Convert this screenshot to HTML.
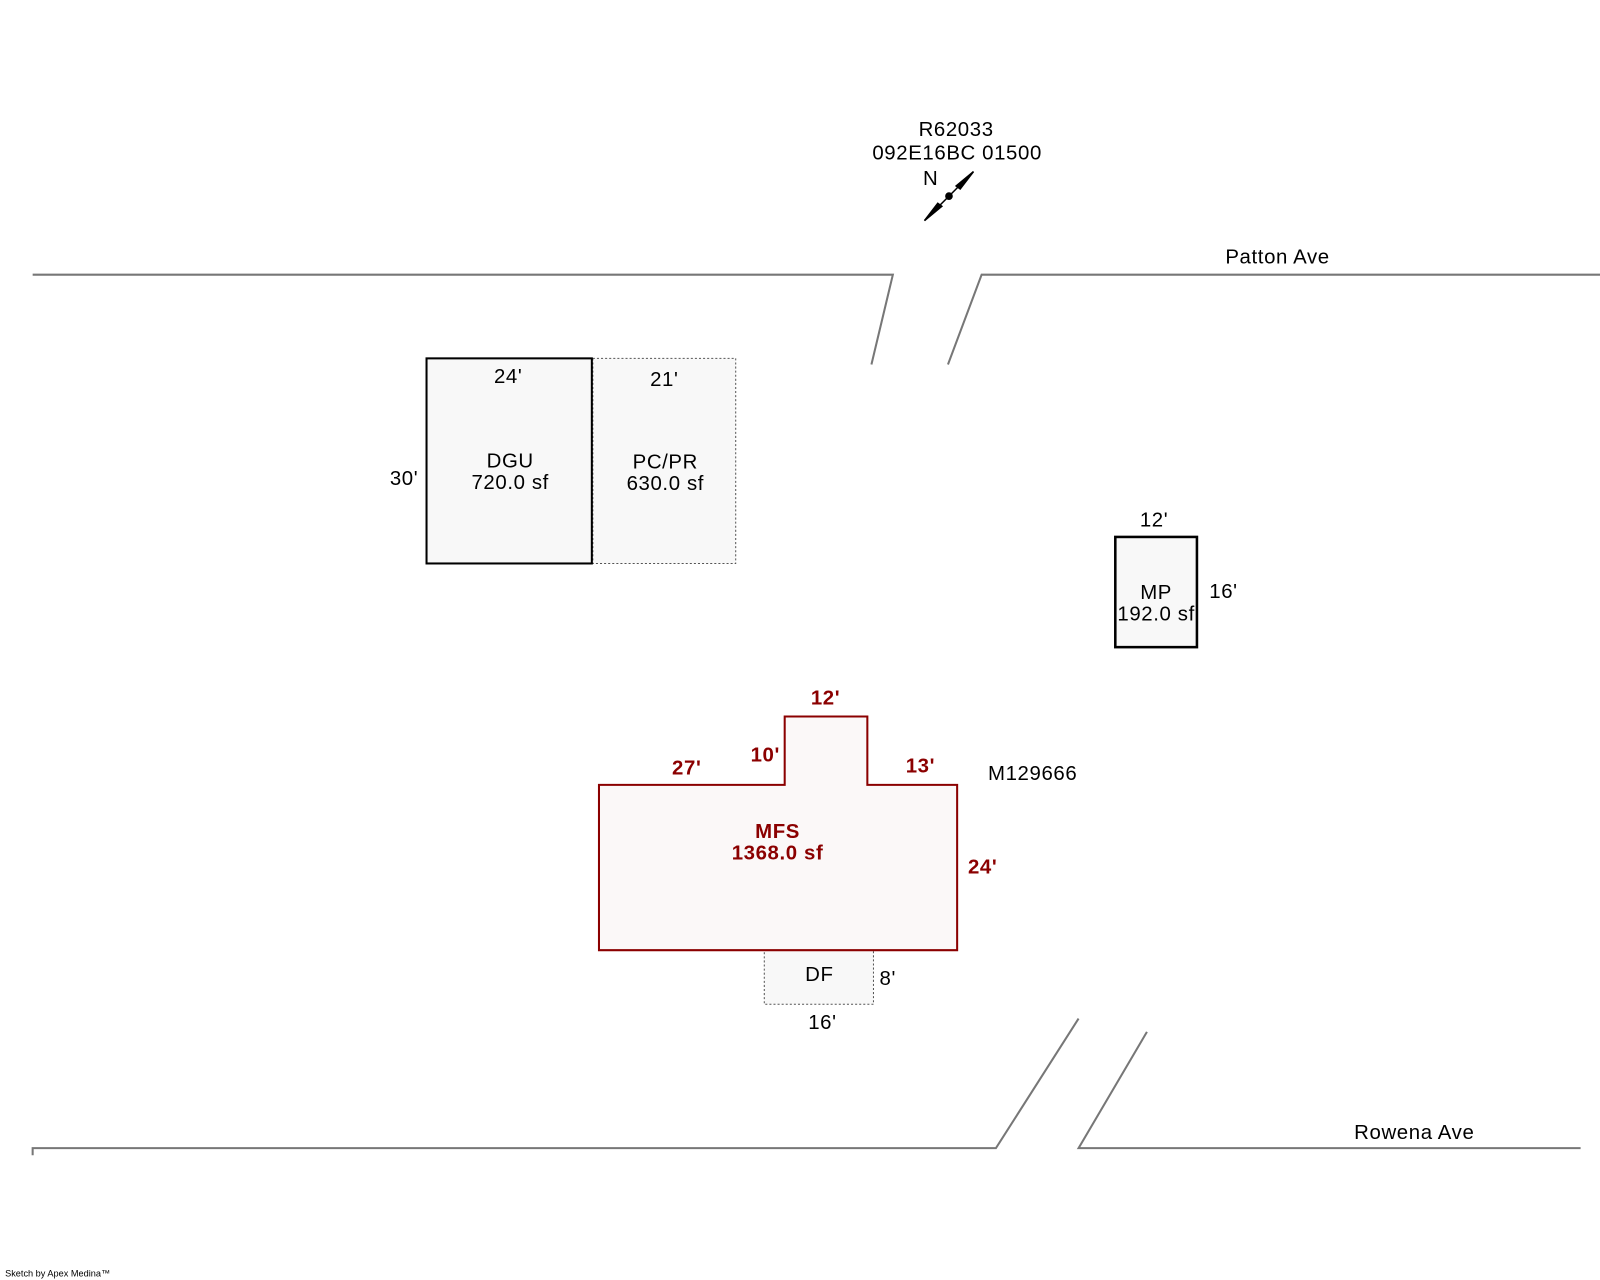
<!DOCTYPE html>
<html><head><meta charset="utf-8"><style>html,body{margin:0;padding:0;background:#fff}svg{display:block}</style></head>
<body>
<svg width="1600" height="1280" viewBox="0 0 1568 1254" xmlns="http://www.w3.org/2000/svg" font-family="Liberation Sans, Arial, sans-serif" font-size="20" letter-spacing="0.6">
<rect width="1568" height="1254" fill="#fff"/>
<g stroke="#777" stroke-width="2" fill="none">
<polyline points="32,269 875,269 854,357"/>
<polyline points="929,357 962,269 1568,269"/>
<polyline points="32,1132 32,1125 976,1125 1057,998"/>
<polyline points="1124,1011 1057,1125 1549,1125"/>
</g>
<text x="937" y="133" text-anchor="middle">R62033</text>
<text x="938" y="156" text-anchor="middle">092E16BC 01500</text>
<text x="912" y="181" text-anchor="middle">N</text>
<g stroke="#000" stroke-width="1.5" fill="#000">
<line x1="906" y1="216" x2="954" y2="168"/>
<polygon points="954,168 937,182 941,185"/>
<polygon points="906,216 923,202 919,199"/>
<circle cx="930" cy="192" r="3"/>
</g>
<text x="1252" y="258" text-anchor="middle">Patton Ave</text>
<text x="1386" y="1116" text-anchor="middle">Rowena Ave</text>
<rect x="581" y="351" width="140" height="201" fill="#f8f8f8" stroke="#555" stroke-width="1" stroke-dasharray="2,2"/>
<rect x="418" y="351" width="162" height="201" fill="#f8f8f8" stroke="#000" stroke-width="2"/>
<text x="498" y="375" text-anchor="middle">24'</text>
<text x="396" y="475" text-anchor="middle">30'</text>
<text x="500" y="458" text-anchor="middle">DGU</text>
<text x="500" y="479" text-anchor="middle">720.0 sf</text>
<text x="651" y="378" text-anchor="middle">21'</text>
<text x="652" y="459" text-anchor="middle">PC/PR</text>
<text x="652" y="480" text-anchor="middle">630.0 sf</text>
<rect x="1093" y="526" width="80" height="108" fill="#f8f8f8" stroke="#000" stroke-width="2.5"/>
<text x="1131" y="516" text-anchor="middle">12'</text>
<text x="1199" y="586" text-anchor="middle">16'</text>
<text x="1133" y="587" text-anchor="middle">MP</text>
<text x="1133" y="608" text-anchor="middle">192.0 sf</text>
<rect x="749" y="931" width="107" height="53" fill="#f8f8f8" stroke="#555" stroke-width="1" stroke-dasharray="2,2"/>
<text x="803" y="961" text-anchor="middle">DF</text>
<text x="870" y="965" text-anchor="middle">8'</text>
<text x="806" y="1008" text-anchor="middle">16'</text>
<polygon points="587,769 769,769 769,702 850,702 850,769 938,769 938,931 587,931" fill="#fbf8f8" stroke="#8b0000" stroke-width="2"/>
<g fill="#8b0000" font-weight="bold">
<text x="809" y="690" text-anchor="middle">12'</text>
<text x="750" y="746" text-anchor="middle">10'</text>
<text x="673" y="759" text-anchor="middle">27'</text>
<text x="902" y="757" text-anchor="middle">13'</text>
<text x="963" y="856" text-anchor="middle">24'</text>
<text x="762" y="821" text-anchor="middle">MFS</text>
<text x="762" y="842" text-anchor="middle">1368.0 sf</text>
</g>
<text x="1012" y="764" text-anchor="middle">M129666</text>
<text x="5" y="1251" font-size="9" letter-spacing="0">Sketch by Apex Medina™</text>
</svg>
</body></html>
